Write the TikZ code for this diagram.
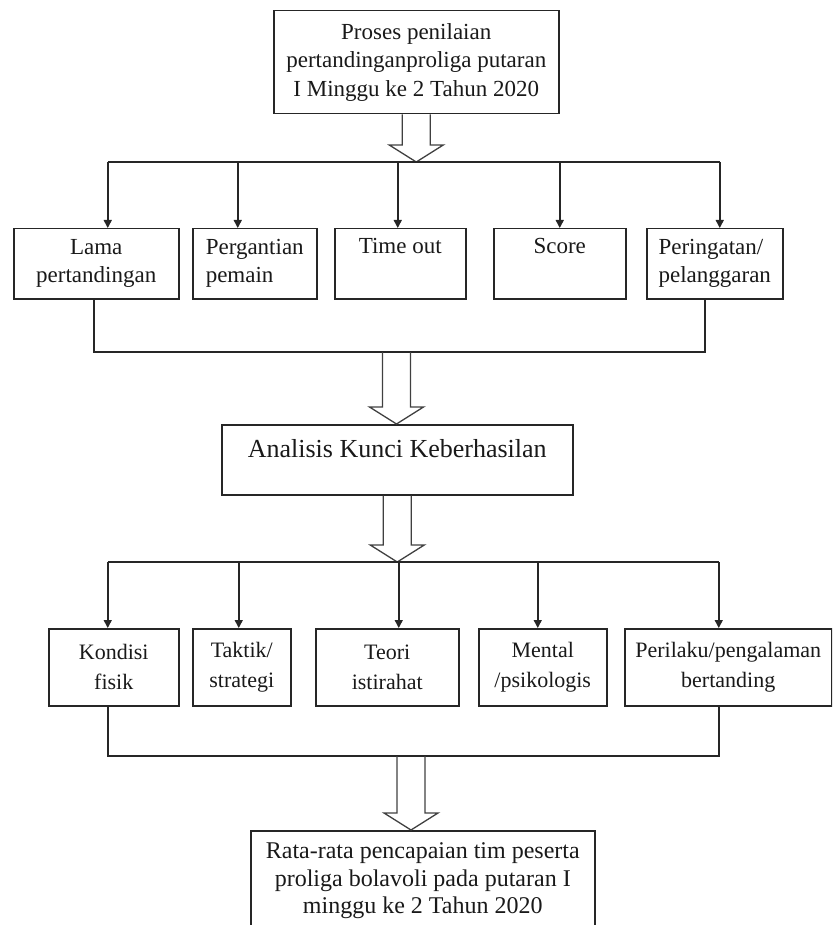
\documentclass[tikz,border=0pt]{standalone}
\usepackage{fontspec}
\setmainfont{Liberation Serif}
\usetikzlibrary{arrows.meta,calc}

% wide hollow arrow pointing straight down, from #1 to the level of #2
\newcommand{\hollowdown}[2]{%
    \path [hollow] let \p1=(#1), \p2=(#2) in
        (\x1-14pt,\y1) -- (\x1-14pt,\y2+17pt) -- (\x1-27pt,\y2+17pt)
        -- (\x1,\y2) -- (\x1+27pt,\y2+17pt) -- (\x1+14pt,\y2+17pt)
        -- (\x1+14pt,\y1);}

\begin{document}
\begin{tikzpicture}[x=1pt, y=-1pt]
    \tikzstyle{box}=[
        draw=black!85, line width=1.5pt, rectangle, anchor=north west,
        inner sep=0pt, text=black!90]
    \tikzstyle{line}=[draw=black!85, line width=1.5pt]
    \tikzstyle{feed}=[line, -{Triangle[width=8pt,length=8pt]}]
    \tikzstyle{hollow}=[draw=black!75, line width=1.3pt]
    \clip (0,0) rectangle (832,925);

    \node [box, align=center, minimum width=285, minimum height=103,
        font=\fontsize{23}{28.5}\selectfont] (proc) at (273,10)
        {Proses penilaian\\pertandinganproliga putaran\\I Minggu ke 2 Tahun 2020};

    \foreach \name / \x / \w / \al / \txt in {
            1/13/165/center/{Lama\\pertandingan},
            2/192/124/left/{Pergantian\\pemain},
            3/334/131/center/{Time out\\\strut},
            4/493/132/center/{Score\\\strut},
            5/646/136/left/{Peringatan/\\pelanggaran}}
        \node [box, align=\al, minimum width=\w, minimum height=70,
            font=\fontsize{23}{28}\selectfont] (A-\name) at (\x,228) {\txt};

    \node [box, minimum width=351, minimum height=70, text height=18,
        text depth=22, font=\fontsize{26}{30}\selectfont] (ana) at (221,424)
        {Analisis Kunci Keberhasilan};

    \foreach \name / \x / \w / \txt in {
            1/48/130/{Kondisi\\fisik},
            2/192/98/{Taktik/\\strategi},
            3/315/143/{Teori\\istirahat},
            4/478/128/{Mental\\/psikologis},
            5/624/207/{Perilaku/pengalaman\\bertanding}}
        \node [box, align=center, minimum width=\w, minimum height=77,
            font=\fontsize{22}{30}\selectfont] (B-\name) at (\x,628) {\txt};

    \node [box, align=center, minimum width=344, minimum height=100,
        font=\fontsize{24}{27.5}\selectfont] (final) at (250,830)
        {Rata-rata pencapaian tim peserta\\proliga bolavoli pada putaran I\\minggu ke 2 Tahun 2020};

    \coordinate (split1) at (415.5,162);
    \coordinate (join1) at (396.5,352);
    \coordinate (split2) at (396.5,562);
    \coordinate (join2) at (411,756);

    % first row
    \hollowdown{proc.south}{split1}
    \draw [line] ($(A-1.north |- split1)+(11.5,0)$) -- ($(A-5.north |- split1)+(5,0)$);
    \foreach \n / \dx in {1/11.5, 2/-17, 3/-2.5, 4/0, 5/5}
        \draw [feed] ($(A-\n.north |- split1)+(\dx,0)$) -- ($(A-\n.north)+(\dx,0)$);
    \draw [line] ($(A-1.south)+(-2.5,0)$) |- (join1) -| ($(A-5.south)+(-10,0)$);
    \hollowdown{join1}{ana.north}

    % second row
    \hollowdown{ana.south}{split2}
    \draw [line] ($(B-1.north |- split2)+(-6,0)$) -- ($(B-5.north |- split2)+(-9.5,0)$);
    \foreach \n / \dx in {1/-6, 2/-3, 3/11.5, 4/-5, 5/-9.5}
        \draw [feed] ($(B-\n.north |- split2)+(\dx,0)$) -- ($(B-\n.north)+(\dx,0)$);
    \draw [line] ($(B-1.south)+(-6,0)$) |- (join2) -| ($(B-5.south)+(-9.5,0)$);
    \hollowdown{join2}{final.north}
\end{tikzpicture}
\end{document}
